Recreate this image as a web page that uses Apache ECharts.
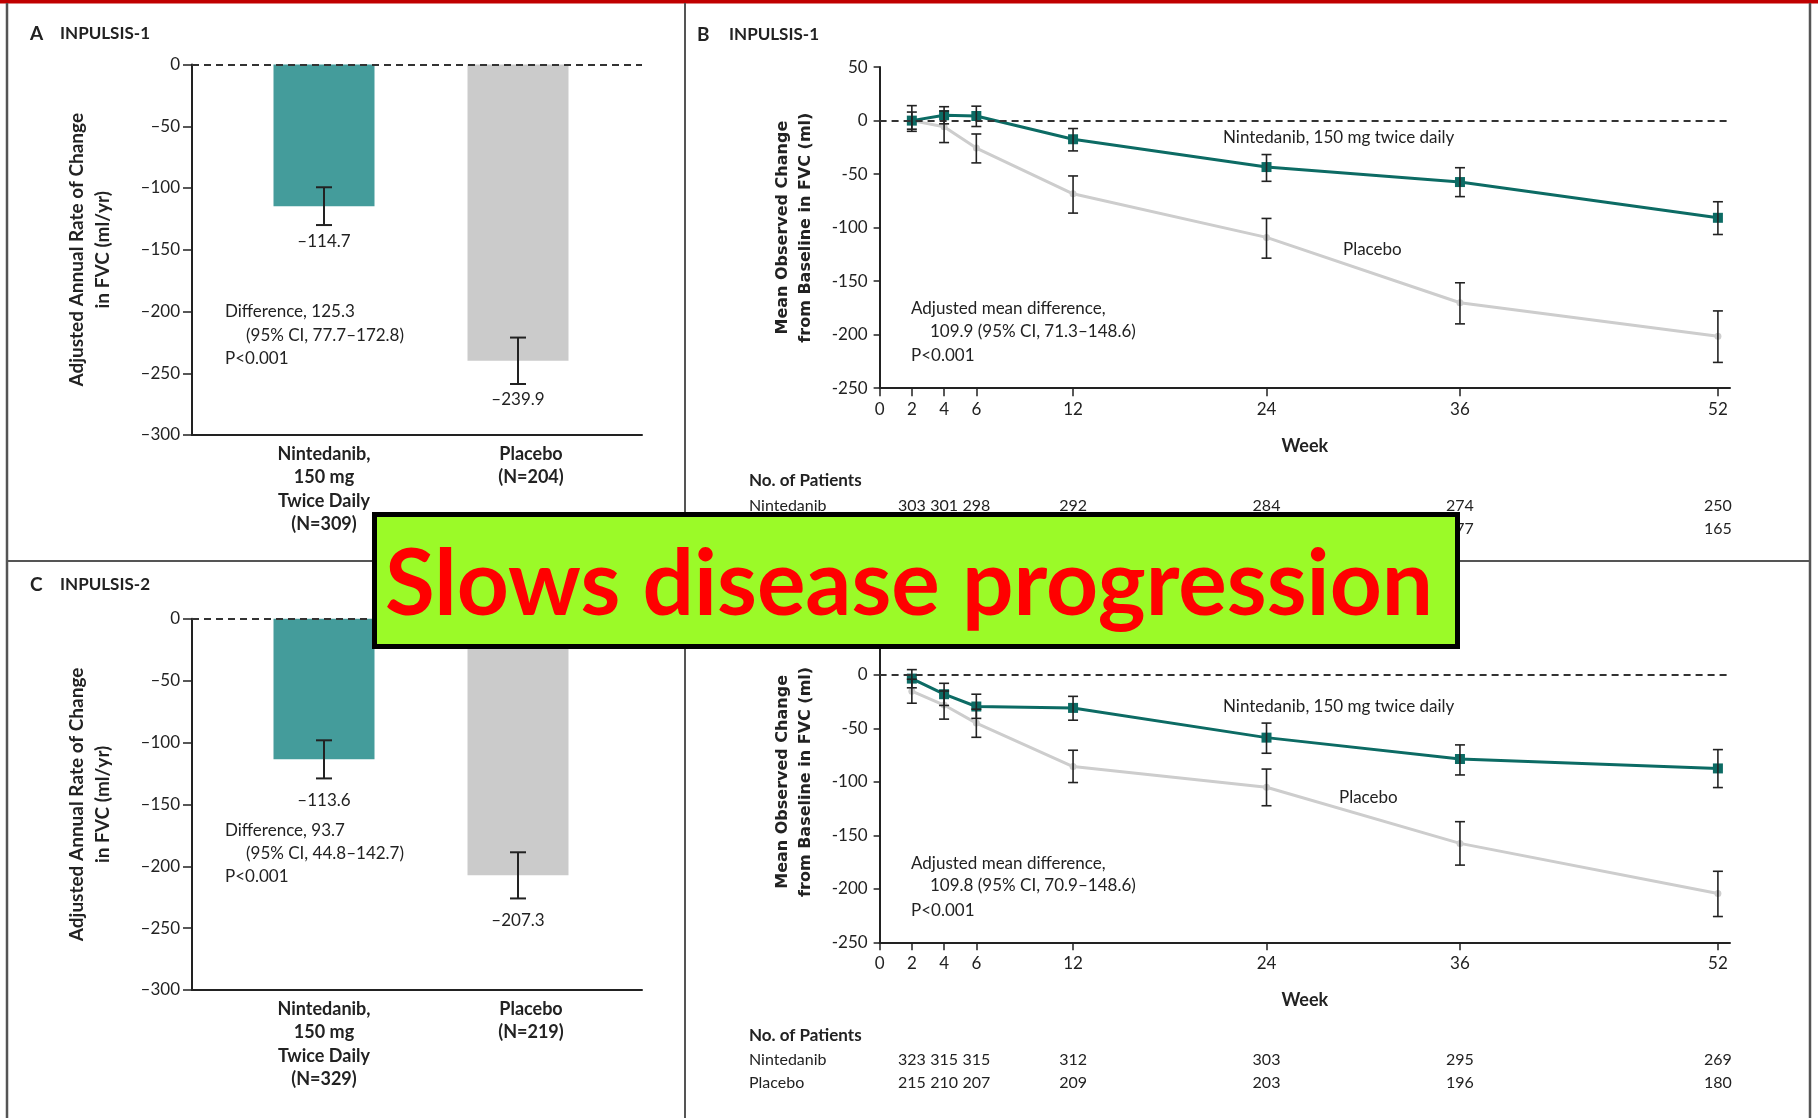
<!DOCTYPE html>
<html>
<head>
<meta charset="utf-8">
<script src="https://cdn.jsdelivr.net/npm/echarts@6/dist/echarts.min.js"></script>
<style>
  html, body { margin: 0; padding: 0; background: #fff; }
  #chart { width: 1818px; height: 1118px; }
</style>
</head>
<body>
<div id="chart"></div>
<script>
// ---- Panels A / C: adjusted annual rate of change in FVC (ml/yr) ----
const barCategories1 = ['Nintedanib,\n150 mg\nTwice Daily\n(N=309)', 'Placebo\n(N=204)'];
const barCategories2 = ['Nintedanib,\n150 mg\nTwice Daily\n(N=329)', 'Placebo\n(N=219)'];
const rate1 = [-114.7, -239.9];
const rate1Low = [-130.0, -258.7];
const rate1High = [-99.4, -221.1];
const rate2 = [-113.6, -207.3];
const rate2Low = [-129.0, -226.0];
const rate2High = [-98.2, -188.7];

// ---- Panels B / D: mean observed change from baseline in FVC (ml) ----
const weeks = [2, 4, 6, 12, 24, 36, 52];
const weekTicks = [0, 2, 4, 6, 12, 24, 36, 52];
const nint1Change = [0, 5.0, 4.3, -17.4, -43.4, -57.4, -90.8];
const nint1Low    = [-10, -3, -5.5, -28.3, -56.7, -71.0, -106.4];
const nint1High   = [14, 13, 13.5, -7.4, -31.7, -44.0, -75.8];
const plac1Change = [0, -5.7, -25.7, -68.4, -109.1, -170.2, -201.5];
const plac1Low    = [-8, -20.5, -39.5, -86.4, -128.5, -189.9, -225.9];
const plac1High   = [8, 9, -12.5, -51.7, -91.4, -151.5, -177.8];
const nint2Change = [-3.4, -18.0, -29.5, -30.8, -58.6, -78.6, -87.4];
const nint2Low    = [-12, -28.5, -40.6, -42.3, -73.2, -93.5, -105.3];
const nint2High   = [5, -7.8, -18.0, -20.0, -45.0, -65.4, -69.8];
const plac2Change = [-15.2, -28.1, -45.0, -85.7, -105.0, -157.5, -204.3];
const plac2Low    = [-26.4, -41.3, -58.3, -100.6, -122.3, -177.8, -225.9];
const plac2High   = [-4, -15, -32, -70.4, -88.0, -137.2, -183.6];

// ---- Number of patients at each visit ----
const patients1Nint = [303, 301, 298, 292, 284, 274, 250];
const patients1Plac = [204, 202, 199, 196, 189, 177, 165];
const patients2Nint = [323, 315, 315, 312, 303, 295, 269];
const patients2Plac = [215, 210, 207, 209, 203, 196, 180];

const TEAL_BAR = '#449c9b';
const GREY_BAR = '#cbcbcb';
const TEAL_LINE = '#0c6b64';
const GREY_LINE = '#cdcdcd';
const INK = '#222';
const FONT = 'Lato, "Open Sans", sans-serif';

const dash = v => (v < 0 ? '\u2013' + Math.abs(v) : String(v));

function zip(...cols) { return cols[0].map((_, i) => cols.map(c => c[i])); }

// error bar + value label for the bar panels
function barErrorRender(labelGap) {
  return function (params, api) {
    const lo = api.coord([api.value(0), api.value(1)]);
    const hi = api.coord([api.value(0), api.value(2)]);
    const x = lo[0], hw = 8;
    const st = { stroke: INK, lineWidth: 2 };
    return {
      type: 'group', children: [
        { type: 'line', shape: { x1: x, y1: hi[1], x2: x, y2: lo[1] }, style: st },
        { type: 'line', shape: { x1: x - hw, y1: hi[1], x2: x + hw, y2: hi[1] }, style: st },
        { type: 'line', shape: { x1: x - hw, y1: lo[1], x2: x + hw, y2: lo[1] }, style: st },
        { type: 'text', x: x, y: lo[1] + labelGap,
          style: { text: dash(api.value(3)), fill: INK, font: '17px ' + FONT, align: 'center', verticalAlign: 'middle' } }
      ]
    };
  };
}

// error bars for the line panels
function lineErrorRender(params, api) {
  const lo = api.coord([api.value(0), api.value(1)]);
  const hi = api.coord([api.value(0), api.value(2)]);
  const x = lo[0], hw = 5;
  const st = { stroke: INK, lineWidth: 1.6 };
  return {
    type: 'group', children: [
      { type: 'line', shape: { x1: x, y1: hi[1], x2: x, y2: lo[1] }, style: st },
      { type: 'line', shape: { x1: x - hw, y1: hi[1], x2: x + hw, y2: hi[1] }, style: st },
      { type: 'line', shape: { x1: x - hw, y1: lo[1], x2: x + hw, y2: lo[1] }, style: st }
    ]
  };
}

// patient counts printed under the week axis
function countRender(rowOffset) {
  return function (params, api) {
    const p = api.coord([api.value(0), -250]);
    return { type: 'text', x: p[0], y: p[1] + rowOffset,
      style: { text: String(api.value(2)), fill: INK, font: '16px ' + FONT, align: 'center', verticalAlign: 'middle' } };
  };
}

function barFrame(top, height) {
  return { left: 192, top: top, width: 450, height: height, outerBoundsMode: 'none' };
}
function barGrid(top, height) {
  return { left: 227, top: top, width: 388, height: height, outerBoundsMode: 'none' };
}
function lineGrid(top, height) {
  return { left: 879.6, top: top, width: 850.4, height: height, outerBoundsMode: 'none' };
}

const grids = [
  barFrame(64.5, 370.5), barGrid(64.5, 370.5),      // A
  barFrame(618.8, 371.2), barGrid(618.8, 371.2),    // C
  lineGrid(67.1, 321.1),                            // B
  lineGrid(621.5, 320.8)                            // D
];

const axisLineStyle = { show: true, onZero: false, lineStyle: { color: INK, width: 2 } };

function rateYAxis(gridIndex, visible) {
  return {
    type: 'value', gridIndex, min: -300, max: 0, interval: 50,
    splitLine: { show: false },
    axisLine: visible ? axisLineStyle : { show: false },
    axisTick: { show: visible, length: 9, lineStyle: { color: INK, width: 1.5 } },
    axisLabel: { show: visible, formatter: dash, color: INK, fontSize: 17, fontFamily: FONT, margin: 12 },
    name: visible ? 'Adjusted Annual Rate of Change\nin FVC (ml/yr)' : '',
    nameLocation: 'middle', nameGap: 76,
    nameTextStyle: { color: INK, fontSize: 19, fontWeight: 'bold', fontFamily: FONT, lineHeight: 26 }
  };
}
function frameXAxis(gridIndex) {
  return { type: 'value', gridIndex, min: 0, max: 1, axisLine: axisLineStyle,
    axisTick: { show: false }, axisLabel: { show: false }, splitLine: { show: false } };
}
function catXAxis(gridIndex, cats) {
  return {
    type: 'category', gridIndex, data: cats,
    axisLine: { show: false, onZero: false }, axisTick: { show: false },
    axisLabel: {
      interval: 0, margin: 7, color: INK, fontSize: 18, fontWeight: 'bold', fontFamily: FONT, lineHeight: 23.5,
      formatter: (v, i) => i === 1 ? v.split('\n').map(s => '{s|' + s + '}').join('\n') : v,
      rich: { s: { fontSize: 18, fontWeight: 'bold', fontFamily: FONT, color: INK, lineHeight: 23.5, padding: [0, 0, 0, 26] } }
    }
  };
}
function weekXAxis(gridIndex) {
  return {
    type: 'value', gridIndex, min: 0, max: 52.75,
    axisLine: axisLineStyle, splitLine: { show: false },
    axisTick: { show: true, customValues: weekTicks, length: 8, lineStyle: { color: INK, width: 1.5 } },
    axisLabel: { customValues: weekTicks, color: INK, fontSize: 17, fontFamily: FONT, margin: 13 },
    name: 'Week', nameLocation: 'middle', nameGap: 49,
    nameTextStyle: { color: INK, fontSize: 18, fontWeight: 'bold', fontFamily: FONT }
  };
}
function changeYAxis(gridIndex) {
  return {
    type: 'value', gridIndex, min: -250, max: 50, interval: 50,
    axisLine: axisLineStyle, splitLine: { show: false },
    axisTick: { show: true, length: 6, lineStyle: { color: INK, width: 1.5 } },
    axisLabel: { color: INK, fontSize: 17, fontFamily: FONT, margin: 12 },
    name: 'Mean Observed Change\nfrom Baseline in FVC (ml)', nameLocation: 'middle', nameGap: 62,
    nameTextStyle: { color: INK, fontSize: 16, fontWeight: 'bold', fontFamily: '"DejaVu Sans", sans-serif', lineHeight: 23 }
  };
}

const zeroLine = {
  silent: true, symbol: 'none', label: { show: false },
  lineStyle: { color: '#333', type: [7, 5], width: 2 },
  data: [{ yAxis: 0 }]
};

function barPanelSeries(frameIdx, barIdx, values, lows, highs, gap) {
  return [
    { type: 'line', xAxisIndex: frameIdx, yAxisIndex: frameIdx, data: [], markLine: zeroLine, z: 4 },
    { type: 'bar', xAxisIndex: barIdx, yAxisIndex: barIdx, barWidth: 101,
      data: values.map((v, i) => ({ value: v, itemStyle: { color: i === 0 ? TEAL_BAR : GREY_BAR } })), z: 2 },
    { type: 'custom', xAxisIndex: barIdx, yAxisIndex: barIdx, renderItem: barErrorRender(gap),
      data: zip(values.map((_, i) => i), lows, highs, values), encode: { x: 0, y: [1, 2] }, z: 5 }
  ];
}

function linePanelSeries(idx, nint, nLo, nHi, plac, pLo, pHi, cNint, cPlac) {
  return [
    { type: 'line', xAxisIndex: idx, yAxisIndex: idx, data: zip(weeks, plac),
      symbol: 'circle', symbolSize: 7, lineStyle: { color: GREY_LINE, width: 3 },
      itemStyle: { color: GREY_LINE }, z: 3, markLine: zeroLine },
    { type: 'line', xAxisIndex: idx, yAxisIndex: idx, data: zip(weeks, nint),
      symbol: 'rect', symbolSize: 10, lineStyle: { color: TEAL_LINE, width: 3 },
      itemStyle: { color: TEAL_LINE }, z: 4 },
    { type: 'custom', xAxisIndex: idx, yAxisIndex: idx, renderItem: lineErrorRender,
      data: zip(weeks, pLo, pHi), encode: { x: 0, y: [1, 2] }, z: 5 },
    { type: 'custom', xAxisIndex: idx, yAxisIndex: idx, renderItem: lineErrorRender,
      data: zip(weeks, nLo, nHi), encode: { x: 0, y: [1, 2] }, z: 6 },
    { type: 'custom', xAxisIndex: idx, yAxisIndex: idx, renderItem: countRender(117.5), clip: false,
      data: zip(weeks, weeks.map(() => -250), cNint), encode: { x: 0, y: 1 }, z: 5 },
    { type: 'custom', xAxisIndex: idx, yAxisIndex: idx, renderItem: countRender(140.7), clip: false,
      data: zip(weeks, weeks.map(() => -250), cPlac), encode: { x: 0, y: 1 }, z: 5 }
  ];
}

// free-standing text helpers
function txt(x, y, text, opts = {}) {
  return { type: 'text', x, y, z: opts.z || 10, silent: true,
    style: { text, fill: INK, font: (opts.weight || 'normal') + ' ' + (opts.size || 17) + 'px ' + FONT,
      align: opts.align || 'left', verticalAlign: 'middle', lineHeight: opts.lh } };
}
function vline(x, y1, y2, color, w) {
  return { type: 'line', z: 1, silent: true, shape: { x1: x, y1, x2: x, y2 }, style: { stroke: color, lineWidth: w } };
}
function hline(y, x1, x2, color, w) {
  return { type: 'line', z: 1, silent: true, shape: { x1, y1: y, x2, y2: y }, style: { stroke: color, lineWidth: w } };
}

const chart = echarts.init(document.getElementById('chart'), null, { renderer: 'canvas' });

// width-fit factor for the headline banner
const bannerText = 'Slows disease progression';
const bannerFont = 'bold 91px Lato, "Open Sans", sans-serif';
const mctx = document.createElement('canvas').getContext('2d');
mctx.font = bannerFont;
const bannerScale = 1048 / mctx.measureText(bannerText).width;

const graphics = [
  // panel frame
  { type: 'rect', z: 1, silent: true, shape: { x: 0, y: 0, width: 1818, height: 3.5 }, style: { fill: '#c00000' } },
  vline(7, 3, 1118, '#555', 2.5),
  vline(1810, 3, 1118, '#555', 2.5),
  vline(685, 3, 1118, '#555', 2),
  hline(561, 7, 1810, '#555', 2),
  // panel headings
  txt(30, 34, 'A', { weight: 'bold', size: 19 }),
  txt(60, 34, 'INPULSIS-1', { weight: 'bold', size: 17 }),
  txt(30, 585, 'C', { weight: 'bold', size: 19 }),
  txt(60, 585, 'INPULSIS-2', { weight: 'bold', size: 17 }),
  txt(697, 34.6, 'B', { weight: 'bold', size: 19 }),
  txt(729, 34.6, 'INPULSIS-1', { weight: 'bold', size: 17 }),
  // annotations, panel A
  txt(225, 311.8, 'Difference, 125.3'),
  txt(246, 335.7, '(95% CI, 77.7\u2013172.8)'),
  txt(225, 358.2, 'P<0.001'),
  // annotations, panel C
  txt(225, 830.7, 'Difference, 93.7'),
  txt(246, 853.5, '(95% CI, 44.8\u2013142.7)'),
  txt(225, 877, 'P<0.001'),
  // annotations, panel B
  txt(1223, 137.5, 'Nintedanib, 150 mg twice daily'),
  txt(1343, 250, 'Placebo'),
  txt(911, 309, 'Adjusted mean difference,'),
  txt(930, 331.4, '109.9 (95% CI, 71.3\u2013148.6)'),
  txt(911, 355.3, 'P<0.001'),
  // annotations, panel D
  txt(1223, 706.5, 'Nintedanib, 150 mg twice daily'),
  txt(1339, 798, 'Placebo'),
  txt(911, 863.3, 'Adjusted mean difference,'),
  txt(930, 886, '109.8 (95% CI, 70.9\u2013148.6)'),
  txt(911, 910.4, 'P<0.001'),
  // patient table headings
  txt(749, 481, 'No. of Patients', { weight: 'bold', size: 17 }),
  txt(749, 505.6, 'Nintedanib', { size: 16 }),
  txt(749, 528.9, 'Placebo', { size: 16 }),
  txt(749, 1035.3, 'No. of Patients', { weight: 'bold', size: 17 }),
  txt(749, 1060, 'Nintedanib', { size: 16 }),
  txt(749, 1083, 'Placebo', { size: 16 }),
  // headline banner
  { type: 'rect', z: 200, silent: true, shape: { x: 374.5, y: 514.5, width: 1083, height: 132 },
    style: { fill: '#9bfa28', stroke: '#000', lineWidth: 5 } },
  { type: 'text', z: 201, silent: true, x: 909, y: 586, scaleX: bannerScale,
    style: { text: bannerText, fill: '#ff0000', font: bannerFont, align: 'center', verticalAlign: 'middle' } }
];

chart.setOption({
  animation: false,
  backgroundColor: '#fff',
  grid: grids,
  xAxis: [
    frameXAxis(0), catXAxis(1, barCategories1),
    frameXAxis(2), catXAxis(3, barCategories2),
    weekXAxis(4), weekXAxis(5)
  ],
  yAxis: [
    rateYAxis(0, true), rateYAxis(1, false),
    rateYAxis(2, true), rateYAxis(3, false),
    changeYAxis(4), changeYAxis(5)
  ],
  series: [
    ...barPanelSeries(0, 1, rate1, rate1Low, rate1High, 16),
    ...barPanelSeries(2, 3, rate2, rate2Low, rate2High, 22),
    ...linePanelSeries(4, nint1Change, nint1Low, nint1High, plac1Change, plac1Low, plac1High, patients1Nint, patients1Plac),
    ...linePanelSeries(5, nint2Change, nint2Low, nint2High, plac2Change, plac2Low, plac2High, patients2Nint, patients2Plac)
  ],
  graphic: graphics
});
</script>
</body>
</html>
